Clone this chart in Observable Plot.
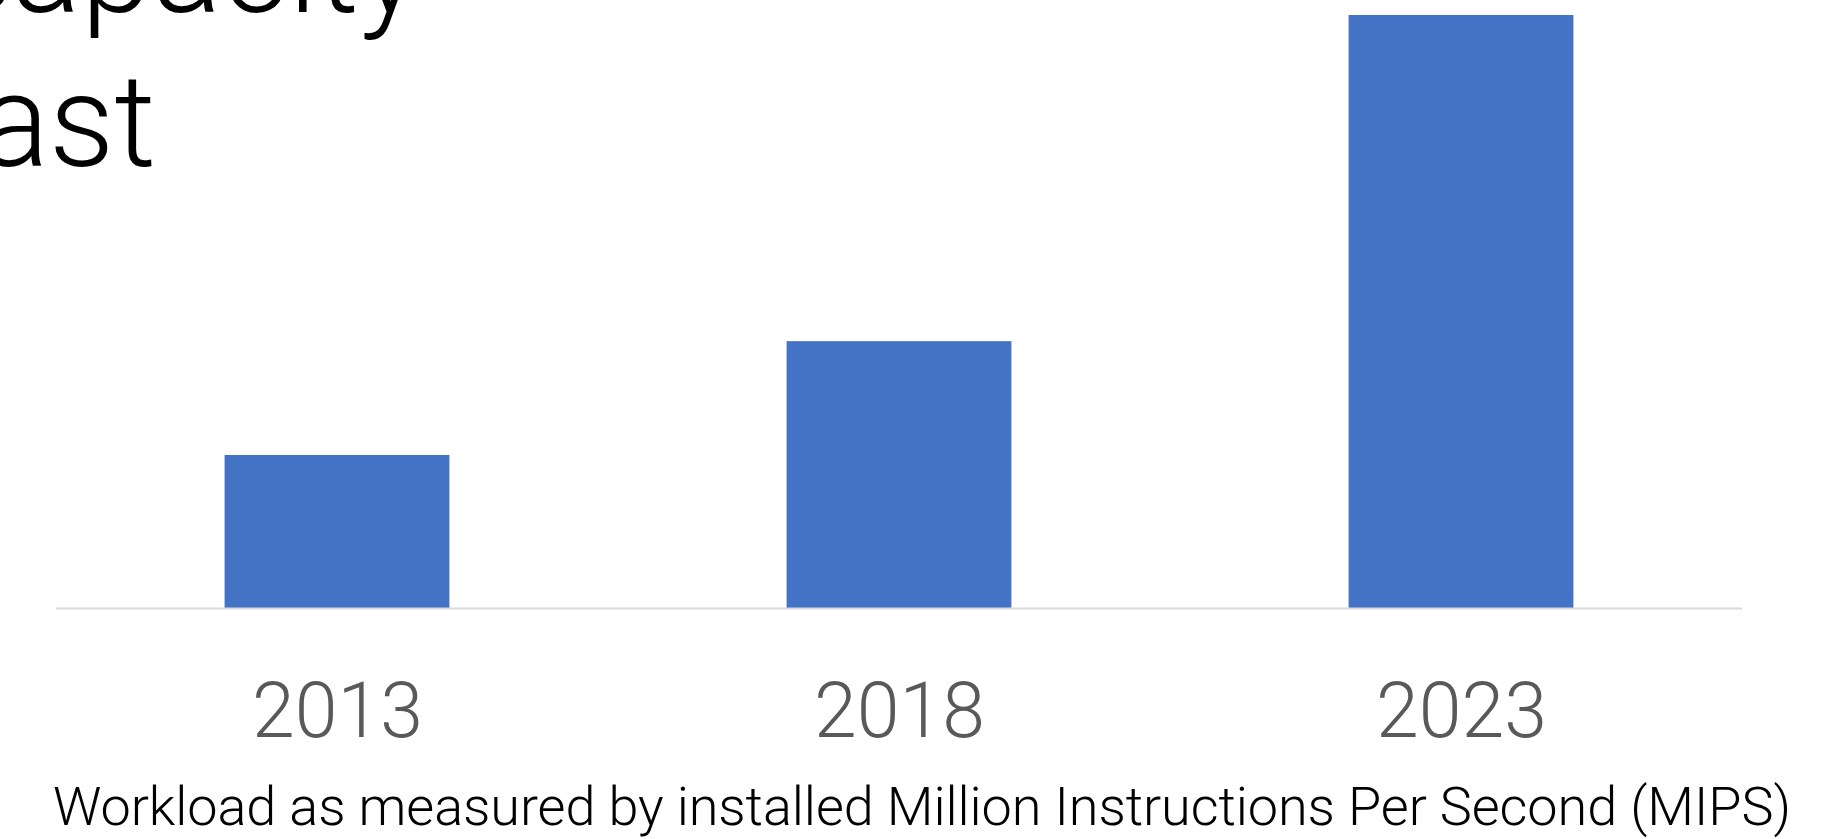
<!DOCTYPE html>
<html><head><meta charset="utf-8">
<script src="https://cdn.jsdelivr.net/npm/d3@7"></script>
<script src="https://cdn.jsdelivr.net/npm/@observablehq/plot@0.6"></script>
<style>
html,body{margin:0;padding:0;background:#fff;overflow:hidden}
#wrap{position:relative;width:1834px;height:839px;}
#chart{position:absolute;left:0;top:0}
#overlay{position:absolute;left:0;top:0}
</style></head><body>
<div id="wrap">
<div id="chart"></div>
<svg id="overlay" width="1834" height="839" font-family="Roboto, 'Noto Sans', sans-serif">
  <text id="t1" x="420" y="12" text-anchor="end" font-size="129" font-weight="300" fill="#000">capacity</text>
  <text id="t2" x="156" y="166" text-anchor="end" font-size="129" font-weight="300" fill="#000">forecast</text>
  <text id="cap" x="922" y="825" text-anchor="middle" font-size="54" font-weight="300" fill="#000" textLength="1738" lengthAdjust="spacing">Workload as measured by installed Million Instructions Per Second (MIPS)</text>
</svg>
</div>
<script>
const years = ["2013", "2018", "2023"];
const mips = [25.8, 45.0, 100];
const barColor = "#4472c4";

const data = years.map((year, i) => ({year, value: mips[i]}));

const chart = Plot.plot({
  width: 1834,
  height: 760,
  marginLeft: 56,
  marginRight: 92,
  marginTop: 15,
  marginBottom: 152,
  style: {fontFamily: "Roboto, 'Noto Sans', sans-serif", background: "transparent"},
  x: {domain: years, paddingInner: 0.6, paddingOuter: 0.3, round: false, axis: null, label: null},
  y: {domain: [0, 100], axis: null},
  marks: [
    Plot.barY(data, {x: "year", y: "value", fill: barColor}),
    Plot.ruleY([0], {stroke: "#d9d9d9", strokeWidth: 2}),
    Plot.axisX({tickSize: 0, tickPadding: 74, fontSize: 77, color: "#595959", fontWeight: 300, label: null})
  ]
});
document.getElementById("chart").appendChild(chart);
</script>
</body></html>
